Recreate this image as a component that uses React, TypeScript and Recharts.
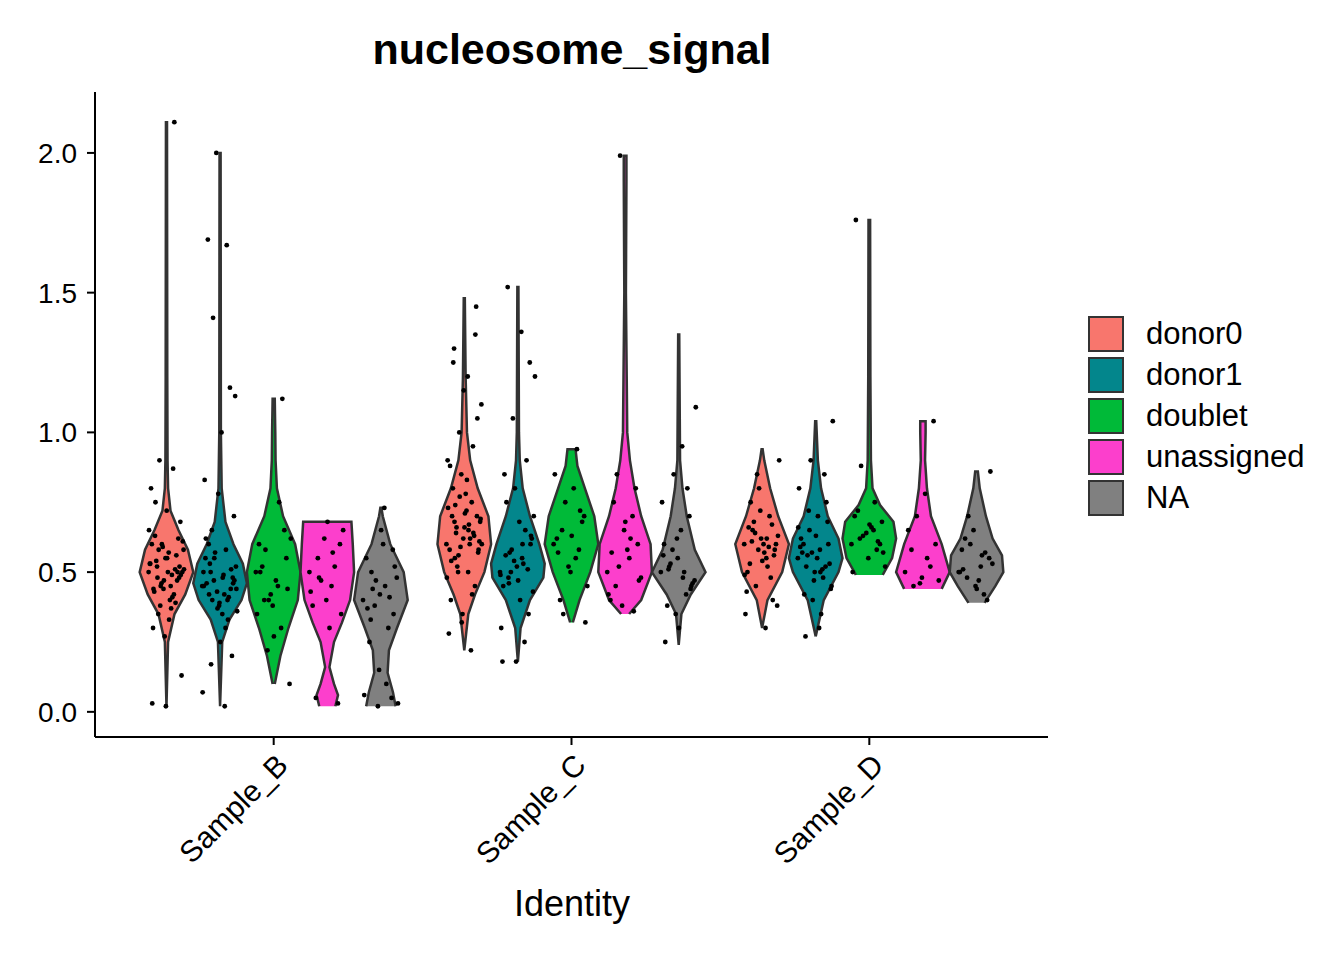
import { ScatterChart, Scatter, XAxis, YAxis } from 'recharts';

const samples = ['Sample_B', 'Sample_C', 'Sample_D'];
const groups = ['donor0', 'donor1', 'doublet', 'unassigned', 'NA'];
const colors = ['#F8766D', '#03868C', '#00BA38', '#FC3FCC', '#808080'];
const offsets = [-0.36, -0.18, 0, 0.18, 0.36];

// violin outlines: [y, relative half width]
const violins: number[][][][] = [
  [
    [[0.02, 0], [0.25, 0.06], [0.35, 0.3], [0.42, 0.7], [0.5, 1], [0.58, 0.8], [0.65, 0.45], [0.72, 0.15], [0.8, 0.06], [0.9, 0.04], [1.2, 0.03], [2.11, 0.02]],
    [[0.02, 0], [0.25, 0.08], [0.33, 0.35], [0.4, 0.8], [0.46, 1], [0.53, 0.85], [0.6, 0.5], [0.68, 0.2], [0.8, 0.06], [1.0, 0.03], [2.0, 0.02]],
    [[0.1, 0.04], [0.2, 0.25], [0.3, 0.55], [0.4, 0.9], [0.5, 1], [0.6, 0.8], [0.7, 0.35], [0.8, 0.12], [0.9, 0.07], [1.0, 0.06], [1.12, 0.04]],
    [[0.02, 0.3], [0.06, 0.4], [0.1, 0.25], [0.16, 0.08], [0.25, 0.25], [0.32, 0.55], [0.4, 0.85], [0.5, 1], [0.6, 0.95], [0.68, 0.9]],
    [[0.02, 0.55], [0.07, 0.45], [0.14, 0.25], [0.22, 0.3], [0.3, 0.6], [0.4, 1], [0.5, 0.85], [0.6, 0.35], [0.7, 0.07], [0.73, 0.02]],
  ],
  [
    [[0.22, 0], [0.35, 0.15], [0.42, 0.4], [0.5, 0.75], [0.6, 1], [0.7, 0.9], [0.8, 0.5], [0.9, 0.22], [1.0, 0.1], [1.2, 0.05], [1.48, 0.02]],
    [[0.18, 0], [0.3, 0.1], [0.4, 0.45], [0.48, 0.95], [0.53, 1], [0.6, 0.8], [0.7, 0.45], [0.8, 0.18], [0.9, 0.07], [1.0, 0.04], [1.52, 0.02]],
    [[0.32, 0.05], [0.4, 0.3], [0.5, 0.7], [0.6, 1], [0.7, 0.85], [0.8, 0.5], [0.88, 0.22], [0.94, 0.15]],
    [[0.35, 0.15], [0.4, 0.6], [0.5, 1], [0.6, 0.95], [0.7, 0.6], [0.8, 0.35], [0.9, 0.18], [1.0, 0.08], [1.2, 0.06], [1.5, 0.03], [1.9, 0.05], [1.99, 0.05]],
    [[0.24, 0], [0.35, 0.1], [0.42, 0.45], [0.5, 1], [0.58, 0.6], [0.7, 0.3], [0.8, 0.14], [0.9, 0.05], [1.05, 0.04], [1.35, 0.02]],
  ],
  [
    [[0.3, 0], [0.4, 0.2], [0.5, 0.75], [0.6, 1], [0.7, 0.6], [0.8, 0.3], [0.9, 0.08], [0.94, 0.02]],
    [[0.27, 0], [0.4, 0.3], [0.5, 0.85], [0.55, 1], [0.62, 0.85], [0.7, 0.45], [0.8, 0.2], [0.9, 0.08], [1.04, 0.02]],
    [[0.49, 0.5], [0.55, 0.85], [0.62, 1], [0.68, 0.9], [0.74, 0.4], [0.8, 0.12], [0.9, 0.06], [1.2, 0.04], [1.76, 0.03]],
    [[0.44, 0.7], [0.5, 1], [0.6, 0.7], [0.7, 0.3], [0.8, 0.15], [0.9, 0.08], [1.0, 0.1], [1.04, 0.1]],
    [[0.39, 0.3], [0.45, 0.7], [0.5, 1], [0.56, 0.95], [0.62, 0.6], [0.7, 0.35], [0.8, 0.12], [0.86, 0.05]],
  ],
];

// jittered cell values per violin
const points: number[][][] = [
  [
    [0.5, 0.45, 0.52, 0.48, 0.55, 0.6, 0.42, 0.38, 0.5, 0.57, 0.63, 0.47, 0.44, 0.53, 0.49, 0.35, 0.68, 0.72, 0.3, 0.51, 0.46, 0.58, 0.4, 0.54, 0.62, 0.27, 0.8, 0.87, 0.9, 0.13, 0.5, 0.43, 0.56, 0.59, 0.65, 0.37, 0.48, 0.52, 0.02, 0.03, 2.11, 0.45, 0.61, 0.33, 0.75, 0.5, 0.47, 0.53, 0.41, 0.58, 0.49, 0.55, 0.44, 0.39, 0.6, 0.51],
    [0.45, 0.42, 0.5, 0.48, 0.38, 0.55, 0.4, 0.47, 0.52, 0.35, 0.6, 0.44, 0.43, 0.5, 0.3, 0.65, 0.7, 0.25, 0.46, 0.41, 0.57, 0.36, 0.49, 0.53, 0.2, 0.78, 0.83, 1.67, 1.41, 1.13, 1.0, 1.69, 1.16, 2.0, 0.07, 0.02, 0.17, 0.46, 0.39, 0.62, 0.33, 0.55, 0.44, 0.48, 0.42, 0.51, 0.37, 0.45, 0.58, 0.4, 0.47],
    [0.5, 0.45, 0.4, 0.55, 0.38, 0.6, 0.3, 0.22, 0.1, 0.47, 0.52, 0.65, 0.42, 0.35, 0.75, 0.58, 0.44, 0.27, 0.5, 1.12, 0.4, 0.62],
    [0.5, 0.45, 0.55, 0.6, 0.4, 0.38, 0.52, 0.47, 0.65, 0.3, 0.05, 0.03, 0.62, 0.43, 0.57, 0.48, 0.35, 0.68],
    [0.4, 0.45, 0.5, 0.35, 0.42, 0.55, 0.3, 0.38, 0.48, 0.6, 0.25, 0.05, 0.02, 0.06, 0.1, 0.44, 0.52, 0.65, 0.37, 0.41, 0.47, 0.03, 0.73, 0.33, 0.58, 0.15],
  ],
  [
    [0.6, 0.65, 0.55, 0.7, 0.62, 0.58, 0.75, 0.5, 0.68, 0.72, 0.8, 0.45, 0.85, 0.9, 0.6, 0.64, 0.57, 0.66, 0.4, 0.95, 1.0, 1.1, 1.2, 1.3, 1.45, 0.35, 0.28, 0.22, 0.52, 0.61, 0.78, 0.7, 0.63, 0.59, 0.48, 0.67, 0.74, 1.05, 1.15, 0.88, 0.42, 0.56, 0.69, 0.83, 1.25, 1.35, 0.32, 0.73, 0.62, 0.66, 0.58, 0.71, 0.54, 0.64, 0.77, 0.6, 0.5, 0.68],
    [0.5, 0.55, 0.48, 0.6, 0.52, 0.45, 0.65, 0.58, 0.7, 0.4, 0.75, 0.35, 0.8, 0.3, 0.53, 0.57, 0.62, 0.47, 0.85, 0.9, 1.05, 1.2, 1.36, 1.52, 1.25, 0.18, 0.18, 0.25, 0.5, 0.43, 0.68, 0.56, 0.51, 0.54, 0.49, 0.6, 0.46, 0.63],
    [0.6, 0.55, 0.65, 0.7, 0.5, 0.62, 0.58, 0.75, 0.45, 0.8, 0.4, 0.68, 0.52, 0.85, 0.94, 0.35, 0.32, 0.63, 0.57, 0.72],
    [0.5, 0.55, 0.45, 0.6, 0.65, 0.4, 0.7, 0.52, 0.48, 0.58, 0.75, 0.8, 0.38, 0.42, 0.62, 0.85, 0.47, 0.68, 0.57, 0.36, 1.99],
    [0.5, 0.48, 0.52, 0.45, 0.55, 0.6, 0.42, 0.58, 0.47, 0.65, 0.38, 0.7, 0.35, 0.75, 0.5, 0.53, 0.46, 0.3, 0.25, 0.8, 0.85, 1.09, 0.95, 0.51, 0.44, 0.62, 0.56],
  ],
  [
    [0.6, 0.55, 0.65, 0.58, 0.62, 0.5, 0.7, 0.45, 0.63, 0.57, 0.75, 0.4, 0.8, 0.35, 0.52, 0.68, 0.6, 0.54, 0.66, 0.48, 0.85, 0.9, 0.3, 0.61, 0.56, 0.72, 0.43, 0.59, 0.64, 0.38, 0.6, 0.53, 0.67, 0.58, 0.49, 0.62],
    [0.55, 0.58, 0.52, 0.6, 0.5, 0.62, 0.48, 0.65, 0.45, 0.7, 0.42, 0.75, 0.4, 0.8, 0.35, 0.56, 0.53, 0.63, 0.57, 0.85, 0.9, 1.04, 0.3, 0.27, 0.68, 0.47, 0.59, 0.51, 0.72, 0.44, 0.55, 0.6, 0.52, 0.57, 0.66, 0.5],
    [0.6, 0.65, 0.62, 0.68, 0.55, 0.7, 0.58, 0.63, 0.52, 0.66, 0.72, 0.6, 0.64, 0.5, 0.75, 0.88, 0.57, 0.67, 1.76, 0.61],
    [0.5, 0.55, 0.45, 0.6, 0.48, 0.65, 0.52, 0.7, 0.47, 0.78, 0.58, 1.04, 0.46],
    [0.5, 0.52, 0.48, 0.55, 0.45, 0.58, 0.42, 0.6, 0.53, 0.47, 0.62, 0.4, 0.65, 0.5, 0.56, 0.7, 0.86, 0.44, 0.51, 0.57],
  ],
];

const HALF = 0.09;
const JIT = 0.06;

const violinData = (s: number, g: number) => {
  const cx = s + 1 + offsets[g];
  const prof = violins[s][g];
  const right = prof.map(([y, w]) => ({ x: cx + w * HALF, y }));
  const left = [...prof].reverse().map(([y, w]) => ({ x: cx - w * HALF, y }));
  return [...right, ...left];
};

const pointData = (s: number, g: number) => {
  const cx = s + 1 + offsets[g];
  return points[s][g].map((y, i) => ({ x: cx + (((i * 0.618) % 1) - 0.5) * 2 * JIT, y }));
};

const XTick = (props: any) => {
  const { x, y, payload } = props;
  return (
    <text x={x + 16} y={y + 20} transform={`rotate(-45, ${x + 16}, ${y + 20})`} textAnchor="end" fontSize={30} fill="#000">
      {samples[payload.value - 1]}
    </text>
  );
};

export default function App() {
  const font = 'Liberation Sans, Arial, sans-serif';
  return (
    <div style={{ position: 'absolute', left: 0, top: 0, width: 1344, height: 960, background: '#fff', fontFamily: font }}>
      <div style={{ position: 'absolute', left: 0, width: 1144, top: 25, textAlign: 'center', fontSize: 43, fontWeight: 'bold' }}>
        nucleosome_signal
      </div>
      <ScatterChart width={1344} height={960} margin={{ top: 92, left: 15, right: 296, bottom: 123 }} style={{ fontFamily: font }}>
        <XAxis type="number" dataKey="x" domain={[0.4, 3.6]} ticks={[1, 2, 3]} allowDataOverflow height={100}
          axisLine={{ stroke: '#000', strokeWidth: 2 }} tickLine={{ stroke: '#000', strokeWidth: 2 }} tickSize={8} tick={<XTick />} />
        <YAxis type="number" dataKey="y" domain={[-0.09, 2.218]} ticks={[0, 0.5, 1, 1.5, 2]} allowDataOverflow width={80}
          tickFormatter={(v: number) => v.toFixed(1)} axisLine={{ stroke: '#000', strokeWidth: 2 }} tickLine={{ stroke: '#000', strokeWidth: 2 }}
          tickSize={8} tickMargin={10} tick={{ fontSize: 28, fill: '#000' }} />
        {samples.map((_, s) =>
          groups.map((__, g) => (
            <Scatter key={`v${s}${g}`} data={violinData(s, g)} isAnimationActive={false} shape={() => null}
              line={{ fill: colors[g], stroke: '#333', strokeWidth: 2.5 }} lineJointType="linear" />
          ))
        )}
        {samples.map((_, s) =>
          groups.map((__, g) => (
            <Scatter key={`p${s}${g}`} data={pointData(s, g)} isAnimationActive={false} fill="#000"
              shape={(p: any) => <circle cx={p.cx} cy={p.cy} r={2.4} fill="#000" />} />
          ))
        )}
      </ScatterChart>
      <div style={{ position: 'absolute', left: 0, width: 1144, top: 883, textAlign: 'center', fontSize: 36 }}>Identity</div>
      <div style={{ position: 'absolute', left: 1088, top: 313 }}>
        {groups.map((g, i) => (
          <div key={g} style={{ display: 'flex', alignItems: 'center', height: 41 }}>
            <div style={{ width: 36, height: 36, background: colors[i], border: '2.5px solid #333', boxSizing: 'border-box' }} />
            <span style={{ marginLeft: 22, fontSize: 31 }}>{g}</span>
          </div>
        ))}
      </div>
    </div>
  );
}
